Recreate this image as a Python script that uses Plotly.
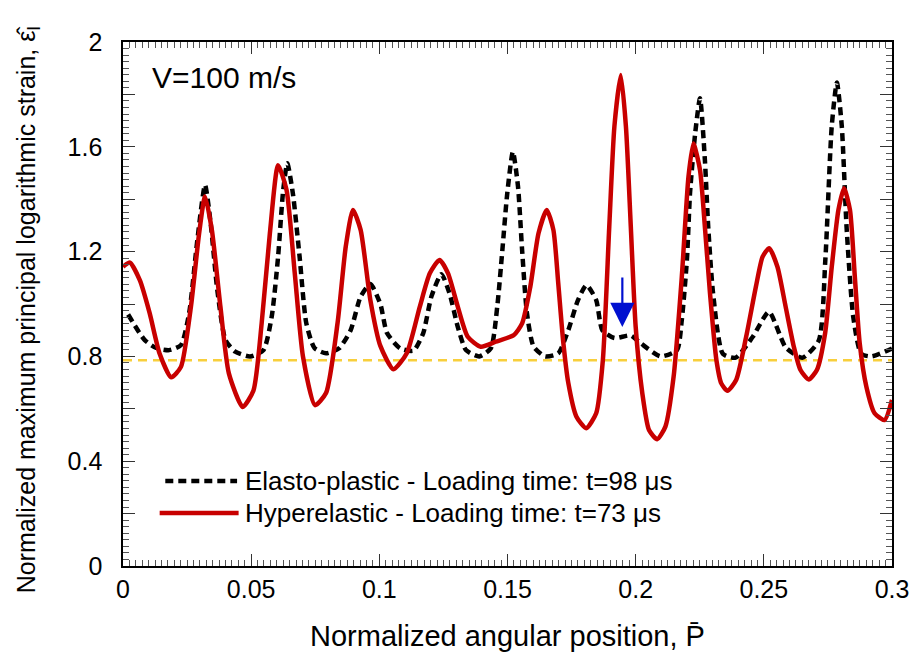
import plotly.graph_objects as go

# Hyperelastic - Loading time t=73 us (red solid)
red_x = [0.0, 0.0027, 0.0066, 0.0104, 0.0143, 0.0188, 0.0226, 0.0265, 0.0297, 0.032,
         0.0347, 0.038, 0.0413, 0.0467, 0.0509, 0.0541, 0.0573, 0.0605, 0.0638, 0.067,
         0.0702, 0.0749, 0.0792, 0.0837, 0.0869, 0.0897, 0.0927, 0.0965, 0.1004, 0.1055,
         0.1107, 0.1158, 0.1197, 0.1235, 0.1268, 0.1306, 0.1345, 0.1396, 0.1454, 0.1525,
         0.1557, 0.1589, 0.1621, 0.1653, 0.1679, 0.1698, 0.1717, 0.1737, 0.1769, 0.1807,
         0.1846, 0.1872, 0.1897, 0.1917, 0.1942, 0.1962, 0.1981, 0.2, 0.2026, 0.2052,
         0.2084, 0.2116, 0.2148, 0.218, 0.2206, 0.2225, 0.2251, 0.227, 0.229, 0.2315,
         0.2334, 0.2358, 0.2392, 0.2431, 0.2469, 0.2495, 0.2521, 0.2553, 0.2585, 0.2617,
         0.2643, 0.2675, 0.2707, 0.2739, 0.2765, 0.2791, 0.2813, 0.2836, 0.2855, 0.2874,
         0.29, 0.2932, 0.2971, 0.3]
red_y = [1.142, 1.158, 1.09, 0.965, 0.81, 0.72, 0.76, 0.99, 1.27, 1.41,
         1.28, 0.99, 0.735, 0.607, 0.67, 0.927, 1.27, 1.53, 1.435, 1.118,
         0.80, 0.614, 0.66, 0.927, 1.219, 1.359, 1.283, 1.015, 0.84, 0.751,
         0.812, 0.99, 1.117, 1.168, 1.117, 0.99, 0.875, 0.837, 0.856, 0.882,
         0.926, 1.066, 1.27, 1.359, 1.283, 1.079, 0.86, 0.70, 0.57, 0.526,
         0.583, 0.786, 1.295, 1.677, 1.874, 1.677, 1.295, 0.913, 0.659, 0.519,
         0.484, 0.532, 0.722, 1.104, 1.486, 1.613, 1.511, 1.295, 1.041, 0.786,
         0.697, 0.669, 0.71, 0.875, 1.066, 1.18, 1.213, 1.142, 0.99, 0.837,
         0.748, 0.712, 0.748, 0.888, 1.142, 1.359, 1.442, 1.359, 1.104, 0.85,
         0.684, 0.583, 0.557, 0.634]

# Elasto-plastic - Loading time t=98 us (black dashed)
black_x = [0.002, 0.0085, 0.013, 0.018, 0.0226, 0.0258, 0.029, 0.032, 0.0342, 0.0368,
           0.04, 0.0438, 0.0496, 0.0548, 0.058, 0.0605, 0.0625, 0.0641, 0.0663, 0.0689,
           0.0715, 0.0747, 0.0792, 0.0843, 0.0888, 0.0927, 0.0965, 0.1004, 0.103, 0.1081,
           0.1133, 0.1171, 0.1203, 0.1242, 0.1274, 0.1306, 0.1338, 0.139, 0.1435, 0.146,
           0.148, 0.1499, 0.1521, 0.1541, 0.1557, 0.1576, 0.1602, 0.1647, 0.1698, 0.1737,
           0.1775, 0.1808, 0.1846, 0.187, 0.1917, 0.198, 0.202, 0.2097, 0.2161, 0.218,
           0.22, 0.2212, 0.2232, 0.2251, 0.227, 0.2283, 0.2302, 0.234, 0.239, 0.2457,
           0.252, 0.2585, 0.265, 0.2714, 0.274, 0.2765, 0.2785, 0.2804, 0.2823, 0.2849,
           0.288, 0.292, 0.3]
black_y = [0.96, 0.862, 0.832, 0.824, 0.843, 0.965, 1.244, 1.454, 1.308, 1.053,
           0.862, 0.818, 0.80, 0.824, 0.951, 1.18, 1.435, 1.537, 1.42, 1.18,
           0.927, 0.832, 0.812, 0.831, 0.90, 1.028, 1.076, 1.0, 0.889, 0.831,
           0.822, 0.888, 1.028, 1.114, 1.04, 0.913, 0.824, 0.80, 0.831, 0.99,
           1.206, 1.422, 1.581, 1.448, 1.206, 0.964, 0.837, 0.80, 0.812, 0.90,
           1.015, 1.072, 1.015, 0.90, 0.87, 0.88, 0.85, 0.80, 0.824, 0.94,
           1.17, 1.422, 1.65, 1.785, 1.55, 1.295, 1.041, 0.81, 0.795, 0.875,
           0.97, 0.835, 0.795, 0.86, 1.17, 1.68, 1.845, 1.68, 1.29, 0.95,
           0.81, 0.80, 0.83]

ref_x = [0.0, 0.3]
ref_y = [0.785, 0.785]

# y major ticks every 0.2, labels only every 0.4 (suffix keeps labels off the axis)
Y_SUFFIX = "  "
y_hidden_labels = {v + Y_SUFFIX: " " for v in ["0.2", "0.6", "1", "1.4", "1.8"]}

legend_labels = ["Elasto-plastic - Loading time: t=98 \u03bcs",
                 "Hyperelastic - Loading time: t=73 \u03bcs"]
x_title = "Normalized angular position, P\u0304"
y_title = "Normalized maximum principal logarithmic strain, \u03b5\u0302<sub>I</sub>"

FONT = "Liberation Sans, Arial, sans-serif"
RED = "#C80000"

fig = go.Figure()
fig.add_trace(go.Scatter(x=ref_x, y=ref_y, mode="lines",
                         line=dict(color="#F8CF3C", width=2.5, dash="9px,6px"),
                         showlegend=False))
fig.add_trace(go.Scatter(x=black_x, y=black_y, mode="lines",
                         line=dict(color="black", width=4.5, dash="8px,5px",
                                   shape="spline", smoothing=0.6),
                         showlegend=False))
fig.add_trace(go.Scatter(x=red_x, y=red_y, mode="lines",
                         line=dict(color=RED, width=4.5, shape="spline", smoothing=0.6),
                         showlegend=False))

# manual legend
fig.add_shape(type="line", x0=0.0165, x1=0.0445, y0=0.324, y1=0.324,
              xref="x", yref="y", line=dict(color="black", width=4.5, dash="8px,5px"))
fig.add_shape(type="line", x0=0.0143, x1=0.0451, y0=0.202, y1=0.202,
              xref="x", yref="y", line=dict(color=RED, width=4.5))
for yy, txt in zip([0.324, 0.202], legend_labels):
    fig.add_annotation(x=0.0468, y=yy, text=txt, showarrow=False, xanchor="left",
                       yanchor="middle", font=dict(family=FONT, size=26, color="black"))

fig.add_annotation(x=0.0104, y=1.863, text="V=100 m/s", showarrow=False,
                   xanchor="left", yanchor="middle",
                   font=dict(family=FONT, size=30, color="black"))

# blue arrow
fig.add_annotation(x=0.1948, y=0.912, ax=0.1948, ay=1.107, axref="x", ayref="y",
                   xref="x", yref="y", text="", showarrow=True,
                   arrowhead=2, arrowsize=2.2, arrowwidth=2.2, arrowcolor="#0010D0")

# axis titles
fig.add_annotation(x=0.5, y=-0.1336, xref="paper", yref="paper", text=x_title,
                   showarrow=False, xanchor="center", yanchor="middle",
                   font=dict(family=FONT, size=29, color="black"))
fig.add_annotation(x=-0.1234, y=0.49, xref="paper", yref="paper", text=y_title,
                   showarrow=False, xanchor="center", yanchor="middle", textangle=-90,
                   font=dict(family=FONT, size=25, color="black"))

fig.update_xaxes(range=[0, 0.3], showline=True, linecolor="black", linewidth=1.5,
                 mirror="allticks", ticks="inside", ticklen=12, tickwidth=1.3, tickcolor="#333",
                 showgrid=False, zeroline=False, dtick=0.05,
                 minor=dict(dtick=0.0025, ticks="inside", ticklen=6, tickwidth=1.2,
                            tickcolor="#555"))
fig.update_yaxes(range=[0, 2], showline=True, linecolor="black", linewidth=1.5,
                 mirror="allticks", ticks="inside", ticklen=12, tickwidth=1.3, tickcolor="#333",
                 showgrid=False, zeroline=False, dtick=0.2,
                 ticksuffix=Y_SUFFIX, labelalias=y_hidden_labels,
                 minor=dict(dtick=0.025, ticks="inside", ticklen=6, tickwidth=1.2,
                            tickcolor="#555"))

# page body has an 8px margin: figure is drawn at (8, 8) in the 921x658 window
fig.update_layout(width=913, height=650, margin=dict(l=115, r=20, t=34, b=92),
                  plot_bgcolor="white", paper_bgcolor="white", showlegend=False,
                  font=dict(family=FONT, size=25, color="black"))

fig.write_html("out.html")
